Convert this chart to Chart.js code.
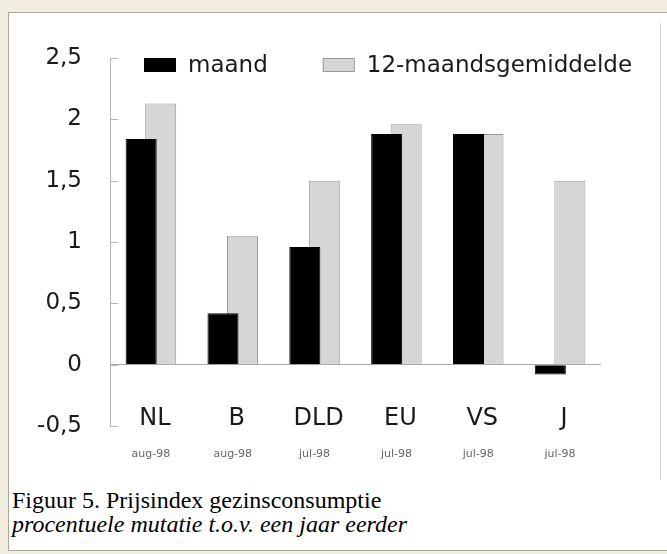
<!DOCTYPE html>
<html>
<head>
<meta charset="utf-8">
<script src="https://cdn.jsdelivr.net/npm/chart.js@4.4.1/dist/chart.umd.min.js"></script>
<style>
  html, body { margin: 0; padding: 0; }
  body { width: 667px; height: 554px; background: #f1eee0; position: relative; overflow: hidden; }
  .frame {
    position: absolute; left: 8px; top: 12px; width: 670px; height: 539px;
    background: #fff; border: 1px solid #aca899; box-sizing: border-box;
  }
  .edge { position: absolute; left: 660px; top: 23px; width: 1px; height: 457px; background: #cfcfcf; }
  #chart { position: absolute; left: 0; top: 0; }
  .caption {
    position: absolute; left: 12px; top: 488px;
    font-family: "Liberation Serif", "Times New Roman", serif; font-size: 24px; line-height: 24px; color: #000;
    white-space: nowrap;
  }
  .caption i { font-style: italic; }
</style>
</head>
<body>
<div class="frame"></div>
<div class="edge"></div>
<canvas id="chart" width="667" height="480"></canvas>
<div class="caption">Figuur 5. Prijsindex gezinsconsumptie<br><i>procentuele mutatie t.o.v. een jaar eerder</i></div>

<script>
// Data
const countries = ['NL', 'B', 'DLD', 'EU', 'VS', 'J'];
const periods = ['aug-98', 'aug-98', 'jul-98', 'jul-98', 'jul-98', 'jul-98'];
const maand = [1.84, 0.42, 0.96, 1.88, 1.88, -0.08];
const gemiddelde12 = [2.13, 1.05, 1.5, 1.96, 1.88, 1.5];
const yTicks = [-0.5, 0, 0.5, 1, 1.5, 2, 2.5];

const FONT = '"DejaVu Sans", sans-serif';

// legend drawn inside the plot, like the original
const innerLegend = {
    id: 'innerLegend',
    afterDraw(chart) {
        const ctx = chart.ctx;
        const area = chart.chartArea;
        let x = area.left + 34;
        const base = area.top + 14;
        ctx.save();
        ctx.font = '23px ' + FONT;
        ctx.textBaseline = 'alphabetic';
        chart.data.datasets.forEach(ds => {
            ctx.fillStyle = ds.backgroundColor;
            ctx.fillRect(x, base - 14, 32, 14);
            ctx.strokeStyle = ds.borderColor;
            ctx.lineWidth = 1;
            ctx.strokeRect(x + 0.5, base - 13.5, 31, 13);
            x += 32 + 12;
            ctx.fillStyle = '#1a1a1a';
            ctx.fillText(ds.label, x, base);
            x += ctx.measureText(ds.label).width + 55;
        });
        ctx.restore();
    }
};

// category names and periods under the bars, small tick marks inside the axis
const axisExtras = {
    id: 'axisExtras',
    afterDraw(chart) {
        const ctx = chart.ctx;
        const area = chart.chartArea;
        const xs = chart.scales.x;
        const ys = chart.scales.y;
        ctx.save();
        ctx.strokeStyle = '#b5b5b5';
        ctx.lineWidth = 1;
        ys.ticks.forEach(t => {
            const py = Math.round(ys.getPixelForValue(t.value)) + 0.5;
            ctx.beginPath();
            ctx.moveTo(area.left, py);
            ctx.lineTo(area.left + 8, py);
            ctx.stroke();
        });
        ctx.textAlign = 'center';
        ctx.textBaseline = 'alphabetic';
        countries.forEach((c, i) => {
            const px = xs.getPixelForValue(i);
            ctx.font = '24px ' + FONT;
            ctx.fillStyle = '#1a1a1a';
            ctx.fillText(c, px + 4, area.bottom - 1);
            ctx.font = '11px ' + FONT;
            ctx.fillStyle = '#666';
            ctx.fillText(periods[i], px, area.bottom + 31);
        });
        ctx.restore();
    }
};

new Chart(document.getElementById('chart'), {
    type: 'bar',
    data: {
        labels: countries,
        datasets: [{
            label: 'maand',
            data: maand,
            backgroundColor: '#000000',
            borderColor: '#000000',
            borderWidth: 1,
            categoryPercentage: 0.477,
            barPercentage: 1.59
        }, {
            label: '12-maandsgemiddelde',
            data: gemiddelde12,
            backgroundColor: '#d6d6d6',
            borderColor: '#9a9a9a',
            borderWidth: 1,
            categoryPercentage: 0.477,
            barPercentage: 1.59
        }]
    },
    options: {
        responsive: false,
        animation: false,
        layout: { padding: { left: 0, right: 66, top: 58, bottom: 54 } },
        plugins: {
            legend: { display: false },
            tooltip: { enabled: false }
        },
        scales: {
            x: { display: false },
            y: {
                min: yTicks[0],
                max: yTicks[yTicks.length - 1],
                afterBuildTicks: scale => { scale.ticks = yTicks.map(v => ({ value: v })); },
                afterFit: scale => { scale.width = 110; },
                border: { display: true, color: '#b5b5b5', width: 1 },
                grid: {
                    drawTicks: false,
                    color: c => (c.tick && c.tick.value === 0 ? '#aaaaaa' : 'rgba(0,0,0,0)')
                },
                ticks: {
                    padding: 28,
                    color: '#1a1a1a',
                    font: { family: FONT, size: 23 },
                    callback: v => String(v).replace('.', ',')
                }
            }
        }
    },
    plugins: [innerLegend, axisExtras]
});
</script>
</body>
</html>
